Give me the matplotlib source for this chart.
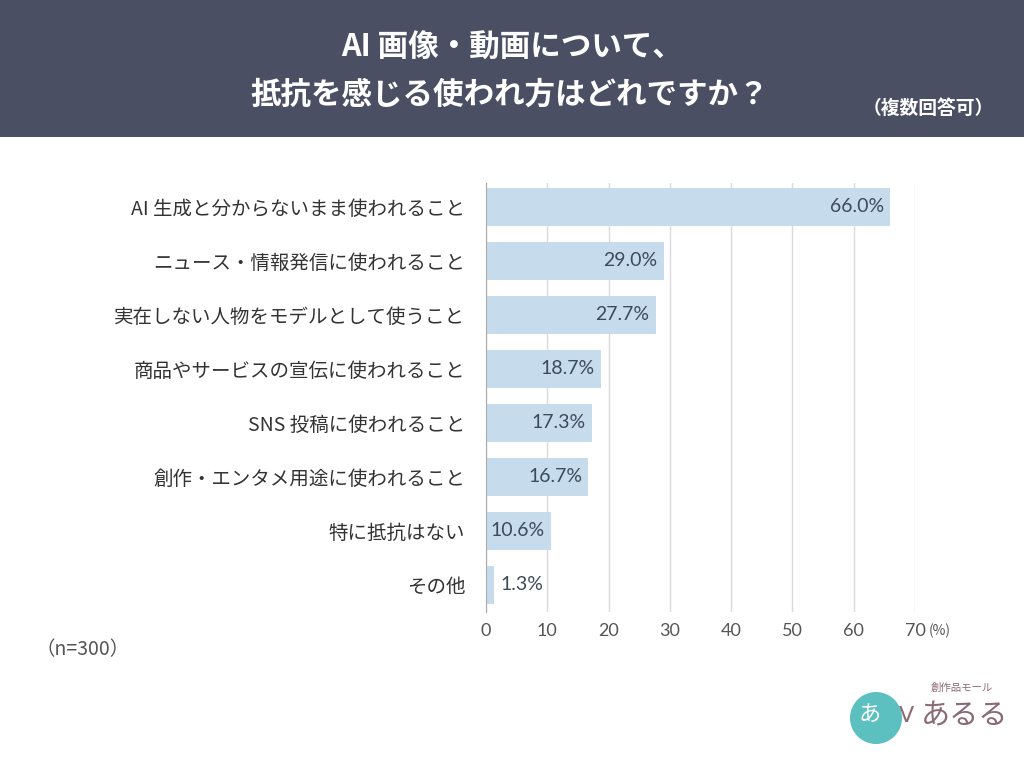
import matplotlib
matplotlib.use("Agg")
import matplotlib.pyplot as plt
from matplotlib.patches import Rectangle, Circle

plt.rcParams['font.family'] = ['Noto Sans CJK JP', 'DejaVu Sans']

categories = [
    "AI 生成と分からないまま使われること",
    "ニュース・情報発信に使われること",
    "実在しない人物をモデルとして使うこと",
    "商品やサービスの宣伝に使われること",
    "SNS 投稿に使われること",
    "創作・エンタメ用途に使われること",
    "特に抵抗はない",
    "その他",
]
values = [66.0, 29.0, 27.7, 18.7, 17.3, 16.7, 10.6, 1.3]
xticks = [0, 10, 20, 30, 40, 50, 60, 70]
title_lines = ["AI 画像・動画について、", "抵抗を感じる使われ方はどれですか？"]

W, H = 1024, 768
fig = plt.figure(figsize=(W / 100, H / 100), dpi=100)
fig.patch.set_facecolor("white")

# header band
fig.add_artist(Rectangle((0, 1 - 137 / H), 1, 137 / H, transform=fig.transFigure,
                         facecolor="#4b4f63", edgecolor="none", zorder=0))
fig.text(512 / W, 1 - 48 / H, title_lines[0], color="white", fontsize=22,
         fontweight="bold", ha="center", va="center")
fig.text(510 / W, 1 - 95 / H, title_lines[1], color="white", fontsize=22,
         fontweight="bold", ha="center", va="center")
fig.text(928 / W, 1 - 108 / H, "（複数回答可）", color="white", fontsize=13.5,
         fontweight="bold", ha="center", va="center")

ax = fig.add_axes([486 / W, 1 - 612 / H, 429 / W, (612 - 183) / H])
ypos = list(range(len(categories)))
ax.barh(ypos, values, height=0.7, color="#c6dced", zorder=2)
ax.set_xlim(0, 70)
ax.set_ylim(7.5, -0.44)
ax.set_xticks(xticks)
ax.set_xticklabels([str(t) for t in xticks], fontsize=13, color="#555555",
                   family=['Lato', 'DejaVu Sans'])
ax.set_yticks(ypos)
ax.set_yticklabels(categories, fontsize=14, color="#333333")
ax.tick_params(axis="y", length=0, pad=15)
ax.tick_params(axis="x", length=0, pad=8)
ax.grid(axis="x", color="#dcd8e0", linewidth=1, zorder=1)
for s in ["top", "right", "bottom"]:
    ax.spines[s].set_visible(False)
ax.spines["left"].set_color("#aaaaaa")
ax.spines["left"].set_zorder(3)
ax.set_facecolor("none")

for y, v in zip(ypos, values):
    label = f"{v:.1f}%"
    if v > 5:
        ax.text(v - 1.0, y, label, ha="right", va="center", fontsize=14,
                color="#3d4a5a", family=['Lato', 'DejaVu Sans'], zorder=4)
    else:
        ax.text(v + 1.0, y, label, ha="left", va="center", fontsize=14,
                color="#3d4a5a", family=['Lato', 'DejaVu Sans'], zorder=4)

fig.text(940 / W, 1 - 631 / H, "(%)", fontsize=10, color="#555555",
         ha="center", va="center")
fig.text(83 / W, 1 - 650 / H, "（n=300）", fontsize=14, color="#555555",
         ha="center", va="center")

# logo
lax = fig.add_axes([840 / W, 1 - 760 / H, 184 / W, 90 / H])
lax.set_xlim(0, 184)
lax.set_ylim(0, 90)
lax.set_aspect("equal")
lax.axis("off")
lax.add_patch(Circle((36, 42), 26, facecolor="#5cbfc0", edgecolor="none"))
lax.text(30, 46, "あ", fontsize=16, color="white", ha="center", va="center")
lax.text(66, 44, "ᐯ", fontsize=16, color="#8a6a75", ha="center", va="center")
lax.text(125, 44, "あるる", fontsize=21, color="#8a6a75", ha="center", va="center")
lax.text(122, 72, "創作品モール", fontsize=7.5, color="#8a6a75", ha="center", va="center")

fig.savefig("out.png", dpi=100, facecolor="white")
